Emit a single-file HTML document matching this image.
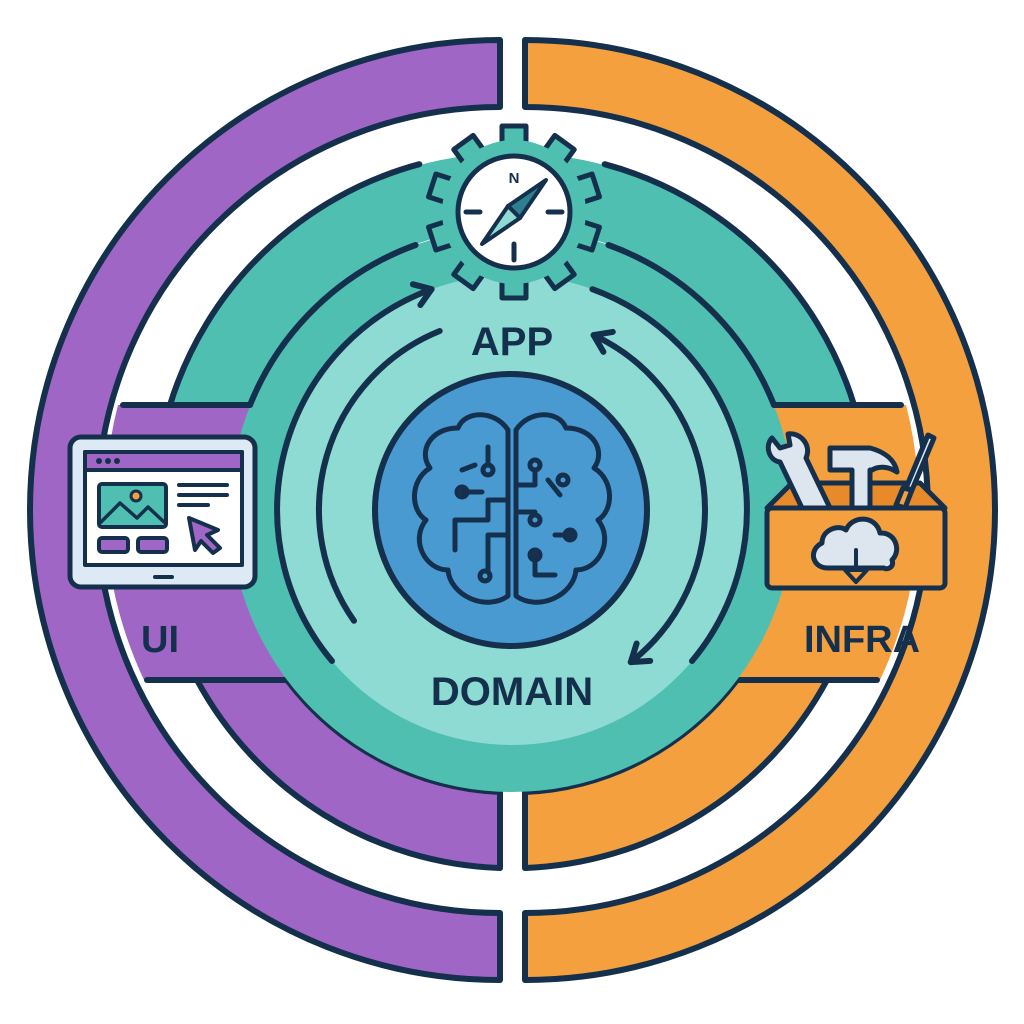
<!DOCTYPE html>
<html><head><meta charset="utf-8"><style>
html,body{margin:0;padding:0;background:#fff;width:1024px;height:1024px;overflow:hidden}
svg{display:block}
text{font-family:"Liberation Sans",sans-serif;font-weight:bold;fill:#14304d;text-anchor:middle}
</style></head><body>
<svg width="1024" height="1024" viewBox="0 0 1024 1024" xmlns="http://www.w3.org/2000/svg">
<g stroke="#14304d" stroke-width="6" stroke-linejoin="round" stroke-linecap="round">
<path d="M500 40 A470 470 0 0 0 500 980 L500 913 A403 403 0 0 1 500 107 Z" fill="#a066c6"/>
<path d="M525 40 A470 470 0 0 1 525 980 L525 913 A403 403 0 0 0 525 107 Z" fill="#f5a03e"/>
<path d="M118 405 A407 407 0 0 0 144 680 L300 680 L300 405 Z" fill="#a066c6" stroke="none"/>
<path d="M906 405 A407 407 0 0 1 880 680 L724 680 L724 405 Z" fill="#f5a03e" stroke="none"/>
<line x1="123" y1="405" x2="170" y2="405"/>
<line x1="147" y1="680" x2="197" y2="680"/>
<line x1="854" y1="405" x2="901" y2="405"/>
<line x1="827" y1="680" x2="877" y2="680"/>
<path d="M197 680 A358 358 0 0 0 500 868 L500 792 A282 282 0 0 1 287 680 Z" fill="#a066c6"/>
<path d="M827 680 A358 358 0 0 1 525 868 L525 792 A282 282 0 0 0 737 680 Z" fill="#f5a03e"/>
<path d="M170 405 A358 358 0 0 1 854 405 L774 405 A282 282 0 0 0 250 405 Z" fill="#4ebfb1" stroke="none"/>
<circle cx="512" cy="510" r="282" fill="#4ebfb1" stroke="none"/>
<path d="M170 405 A358 358 0 0 1 419.3 164.2" fill="none"/>
<path d="M604.7 164.2 A358 358 0 0 1 854 405" fill="none"/>
<line x1="170" y1="405" x2="250" y2="405"/>
<line x1="774" y1="405" x2="854" y2="405"/>
<path d="M250 405 A282 282 0 0 1 415.6 245" fill="none"/>
<path d="M608.4 245 A282 282 0 0 1 774 405" fill="none"/>
<circle cx="512" cy="510" r="235" fill="#8ddbd3" stroke="none"/>
<path d="M332 661 A235 235 0 0 1 431.6 289.2" fill="none"/>
<polyline points="412.9,284.3 431.6,289.2 420.4,305" fill="none"/>
<path d="M592.4 289.2 A235 235 0 0 1 692 661" fill="none"/>
<path d="M354 620.8 A193 193 0 0 1 439.7 331" fill="none"/>
<path d="M593.6 335.1 A193 193 0 0 1 630.8 662.1" fill="none"/>
<polyline points="612.8,331.9 593.6,335.1 603.4,351.9" fill="none"/>
<polyline points="636.6,643.5 630.8,662.1 650.2,660.9" fill="none"/>
<circle cx="511" cy="510" r="136" fill="#4a9ad2"/>
<g stroke-width="5" fill="none">
<path d="M508 430 C495 410,465 410,458 428 C430 428,418 452,430 468 C410 480,410 510,426 520 C410 540,425 570,448 570 C450 595,485 612,508 596 Z"/>
<path d="M516 430 C529 410,559 410,566 428 C594 428,606 452,594 468 C614 480,614 510,598 520 C614 540,599 570,576 570 C574 595,539 612,516 596 Z"/>
<path d="M488 447 L488 465 M462 492 L482 492 M508 500 L488 500 L488 520 L455 520 L455 550 M508 535 L488 535 L488 570 M475 465 L462 470"/>
<circle cx="488" cy="470" r="5"/><circle cx="462" cy="492" r="5"/><circle cx="485" cy="576" r="5"/>
<path d="M535 470 L535 485 L516 485 M516 512 L535 512 M548 480 L560 495 M575 535 L555 535 M535 555 L535 575 L555 575"/>
<circle cx="535" cy="465" r="5"/><circle cx="563" cy="480" r="5"/><circle cx="535" cy="520" r="5"/><circle cx="570" cy="535" r="5"/><circle cx="535" cy="555" r="5"/>
</g>
<g fill="#4ebfb1" stroke-width="5">
<g transform="translate(514,212)">
<rect x="-12" y="-86" width="24" height="22" transform="rotate(0)"/>
<rect x="-12" y="-86" width="24" height="22" transform="rotate(36)"/>
<rect x="-12" y="-86" width="24" height="22" transform="rotate(72)"/>
<rect x="-12" y="-86" width="24" height="22" transform="rotate(108)"/>
<rect x="-12" y="-86" width="24" height="22" transform="rotate(144)"/>
<rect x="-12" y="-86" width="24" height="22" transform="rotate(180)"/>
<rect x="-12" y="-86" width="24" height="22" transform="rotate(216)"/>
<rect x="-12" y="-86" width="24" height="22" transform="rotate(252)"/>
<rect x="-12" y="-86" width="24" height="22" transform="rotate(288)"/>
<rect x="-12" y="-86" width="24" height="22" transform="rotate(324)"/>
<circle r="72" stroke="none"/>
<circle r="56" fill="#fff"/>
<line x1="0" y1="32" x2="0" y2="48"/><line x1="-48" y1="0" x2="-34" y2="0"/><line x1="34" y1="0" x2="48" y2="0"/>
<polygon points="32,-32 -6,-6 6,6" fill="#2e7f90" stroke-width="4"/>
<polygon points="-32,32 -6,-6 6,6" fill="#8ddbd3" stroke-width="4"/>
</g>
</g>
</g>
<text x="514" y="183" font-size="15">N</text>
<text x="512" y="355" font-size="40">APP</text>
<text x="512" y="705" font-size="40">DOMAIN</text>
<text x="160" y="652" font-size="38">UI</text>
<text x="862" y="652" font-size="38">INFRA</text>
<g stroke="#14304d" stroke-width="5" stroke-linejoin="round" stroke-linecap="round">
<rect x="70" y="437" width="185" height="150" rx="11" fill="#dde9f4"/>
<rect x="85" y="452" width="157" height="113" fill="#fff" stroke-width="4"/>
<rect x="85" y="452" width="157" height="18" fill="#a066c6" stroke-width="4"/>
<rect x="99" y="484" width="67" height="43" rx="3" fill="#4ebfb1" stroke-width="4"/>
<polyline points="101,522 120,503 137,518 148,507 164,522" fill="none" stroke-width="3.5"/>
<circle cx="136" cy="496" r="5" fill="#f5a03e" stroke-width="3"/>
<rect x="99" y="538" width="29" height="14" rx="3" fill="#a066c6" stroke-width="4"/>
<rect x="138" y="538" width="29" height="14" rx="3" fill="#a066c6" stroke-width="4"/>
<line x1="179" y1="485" x2="227" y2="485" stroke-width="4"/>
<line x1="179" y1="495" x2="227" y2="495" stroke-width="4"/>
<line x1="179" y1="505" x2="208" y2="505" stroke-width="4"/>
<polygon points="189,518 218,530 207,535 220,548 213,553 201,541 195,550" fill="#a066c6" stroke-width="4"/>
<line x1="155" y1="577" x2="172" y2="577" stroke-width="4"/>
</g>
<circle cx="99" cy="461" r="3" fill="#14304d"/><circle cx="108" cy="461" r="3" fill="#14304d"/><circle cx="117" cy="461" r="3" fill="#14304d"/>
<g stroke="#14304d" stroke-width="5" stroke-linejoin="round" stroke-linecap="round">
<polygon points="767,508 792,483 920,483 945,508" fill="#e8892a"/>
<path d="M802 508 L780 462 C768 460,765 445,772 438 L780 448 L790 445 L788 434 C800 432,812 445,806 458 L830 508 Z" fill="#dde6ee"/>
<path d="M852 508 L852 470 L830 470 L830 448 L870 448 C885 452,895 460,897 472 C888 466,878 466,872 470 L870 470 L870 508 Z" fill="#dde6ee"/>
<path d="M896 505 L903 488 L912 490 L905 508 Z" fill="#f5a03e"/>
<path d="M906 488 L928 435 L934 438 L912 490 Z" fill="#dde6ee"/>
<rect x="767" y="508" width="178" height="80" rx="5" fill="#f5a03e"/>
<path d="M828 568 C812 568,808 550,822 543 C822 530,838 524,846 530 C852 515,876 515,880 533 C895 532,902 550,892 560 C895 568,886 570,884 568 Z" fill="#dde6ee"/>
<line x1="856" y1="550" x2="856" y2="570" stroke-width="4"/>
<polygon points="845,570 867,570 856,582" fill="#f5a03e" stroke-width="4"/>
</g>
</svg>
</body></html>
